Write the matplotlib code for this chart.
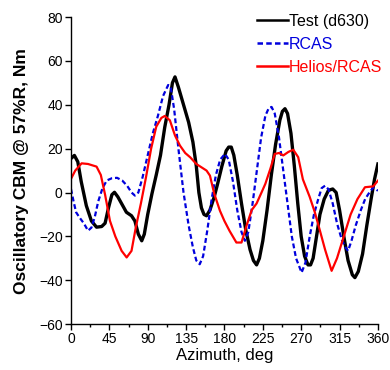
import numpy as np
import matplotlib.pyplot as plt
from matplotlib.ticker import MultipleLocator

plt.rcParams['font.family'] = ['Liberation Sans', 'DejaVu Sans']

# Test (d630)
test_az = [0, 4, 8, 12, 18, 24, 30, 36, 40, 44, 48, 51, 55, 60, 65, 71, 75, 79, 83, 86,
           90, 95, 100, 105, 110, 115, 119, 122, 126, 132, 138, 143, 147, 150, 153, 156,
           159, 163, 168, 172, 177, 182, 185, 188, 191, 195, 200, 205, 210, 214, 217.7,
           221, 225, 230, 235, 240, 245, 248, 251, 254, 258, 262, 266, 270, 274, 278,
           281, 284, 288, 292, 297, 302, 307, 311, 315, 320, 325, 330, 333, 337, 342,
           347, 352, 356, 360]
test_cbm = [15.5, 16.9, 14, 5, -6, -13, -15.8, -15.5, -14, -7, -1, 0.1, -2, -5.5, -9,
            -10.6, -13, -19, -22, -19, -10, -0.5, 8, 17, 29.8, 40, 50, 52.7, 48, 40, 32,
            23, 12, 0, -7, -10, -10.6, -8, -2, 4, 12, 19, 20.7, 20.7, 17, 8, -5, -17,
            -26, -31, -33, -30, -22, -8, 8, 22, 33, 37, 38.2, 36, 27, 12, -5, -20, -29,
            -33, -33, -30, -20, -10, -3, 1, 1.6, 0, -8, -20, -31, -37.5, -38.8, -36,
            -28, -15, -3, 6, 13]

# RCAS
rcas_az = [0, 3, 6, 10, 15, 20, 24, 28, 32, 37, 42, 48, 54, 60, 66, 71, 75, 79, 84, 90,
           96, 102, 108, 114, 117, 121, 126, 132, 138, 143, 147, 151, 155, 160, 165,
           170, 175, 180.6, 185, 190, 195, 200, 204, 208, 213, 218, 223, 228, 232,
           235.3, 239, 244, 249, 254, 259, 264, 270.5, 275, 280, 285, 290, 294, 298,
           302, 307, 312, 318, 322, 325, 329, 334, 340, 345, 350, 354.5, 360]
rcas_cbm = [1.6, -4, -9, -11.4, -14, -17.4, -16, -11, -4, 2, 5.5, 6.5, 6.7, 5.5, 3, 0,
            -1.4, 0, 7, 17, 27, 35, 44, 49, 48, 38, 20, 0, -15, -25, -31, -32.7, -29,
            -17, -3, 8, 15, 17.6, 15, 5, -8, -18, -22, -18, -5, 10, 25, 35, 38.5, 39,
            36, 25, 10, -5, -20, -30, -36.5, -32, -20, -10, -3, 2, 3.1, 1.5, -5, -14,
            -22, -25, -26.6, -22, -15, -8, -3, 0, 2.3, 0.8]

# Helios/RCAS
helios_az = [0, 5, 12.5, 20, 30, 35, 40, 45.7, 52, 59.4, 65.3, 71, 76, 82, 88, 94, 100,
             106, 110, 116, 122, 127.8, 134, 140, 147, 155, 159, 163, 168, 174.7, 180,
             186, 194, 200, 206, 212, 217.7, 223.6, 228, 234, 239, 244, 249, 255, 260.7,
             266.5, 272, 280, 286, 292, 298, 305.7, 312, 320, 328, 336, 344.8, 354.5, 360]
helios_cbm = [6.2, 10, 13.3, 13, 11.8, 8, -1, -12.9, -20, -26.6, -29.6, -26.6, -16, -5,
              7, 20, 30, 34, 34.9, 32.9, 26, 21.4, 18, 16, 13, 11, 10, 7.7, -0.5, -8.3,
              -13, -17.5, -22.8, -22.8, -15, -8, -5, 0.1, 4, 11, 17.6, 18, 16.9, 18.5,
              19.5, 16.1, 6, -2, -9, -17.4, -26, -35.7, -30, -20, -10, -3, 2.4, 2.8, 5.4]

fig = plt.figure(figsize=(3.9, 3.7), dpi=100)
ax = fig.add_axes([0.182, 0.124, 0.787, 0.830])

ax.plot(test_az, test_cbm, color='black', lw=2.4, label='Test (d630)',
        solid_joinstyle='round')
ax.plot(rcas_az, rcas_cbm, color='#0000dd', lw=1.6, ls=(0, (2.2, 1.3)), label='RCAS')
ax.plot(helios_az, helios_cbm, color='red', lw=1.6, label='Helios/RCAS')

ax.set_xlim(0, 360)
ax.set_ylim(-60, 80)
ax.xaxis.set_major_locator(MultipleLocator(45))
ax.xaxis.set_minor_locator(MultipleLocator(22.5))
ax.yaxis.set_major_locator(MultipleLocator(20))

for s in ['top', 'right']:
    ax.spines[s].set_visible(False)
for s in ['left', 'bottom']:
    ax.spines[s].set_linewidth(1.0)

ax.tick_params(axis='both', which='major', direction='out', length=4, width=1,
               labelsize=10, pad=2)
ax.tick_params(axis='x', which='minor', direction='out', length=2.5, width=1)

ax.set_xlabel('Azimuth, deg', fontsize=12, labelpad=1)
ax.set_ylabel('Oscillatory CBM @ 57%R, Nm', fontsize=12.5, fontweight='bold', labelpad=7)

leg = ax.legend(loc='upper right', frameon=False, fontsize=11.5, handlelength=1.9,
                handletextpad=0.1, labelspacing=0.5, borderaxespad=0.0, borderpad=0.0,
                bbox_to_anchor=(1.015, 1.01))
for txt, ln in zip(leg.get_texts(), leg.get_lines()):
    txt.set_color(ln.get_color())
    ln.set_linewidth(1.8)

fig.savefig('out.png', dpi=100)
